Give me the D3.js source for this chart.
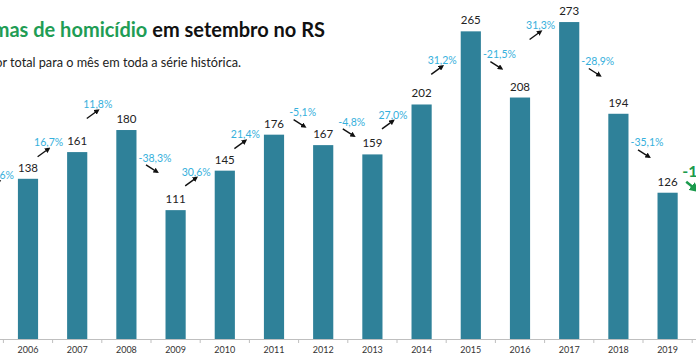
<!DOCTYPE html>
<html>
<head>
<meta charset="utf-8">
<script src="https://cdn.jsdelivr.net/npm/d3@7"></script>
<style>
  body { margin: 0; background: #fff; }
  svg { display: block; }
  #chart text { font-family: Lato, 'Open Sans', sans-serif; }
</style>
</head>
<body>
<svg id="chart" width="696" height="359"></svg>
<script>
// data
const years = [2006, 2007, 2008, 2009, 2010, 2011, 2012, 2013, 2014, 2015, 2016, 2017, 2018, 2019]
const victims = [138, 161, 180, 111, 145, 176, 167, 159, 202, 265, 208, 273, 194, 126]
// change vs previous year (first one is cut off in the picture)
const changes = ['12,6%', '16,7%', '11,8%', '-38,3%', '30,6%', '21,4%', '-5,1%', '-4,8%', '27,0%', '31,2%', '-21,5%', '31,3%', '-28,9%', '-35,1%']
// height (in victims) where each change annotation sits
const changeLevel = [141, 169, 202, 156, 144, 176, 195, 187, 193, 240, 245, 270, 239, 169]
// the next (2020) change, only partly visible on the right edge
const lastChange = '-15,1%'
const lastLevel = 144

const width = 696
const baseline = 339

const svg = d3.select('#chart')

const x = d3.scaleBand()
  .domain(years)
  .range([3.4, 692.2])
  .paddingInner(0.59)
  .paddingOuter(0.295)

const y = d3.scaleLinear()
  .domain([0, 292])
  .range([baseline, 0])

const step = x.step()
const bw = x.bandwidth()

// arrow heads
const defs = svg.append('defs')
const heads = [['head-black', '#111'], ['head-green', '#1a9a4c']]
heads.forEach(([id, c]) => {
  defs.append('marker')
    .attr('id', id)
    .attr('viewBox', '0 0 10 10')
    .attr('refX', 6)
    .attr('refY', 5)
    .attr('markerWidth', 4)
    .attr('markerHeight', 4)
    .attr('orient', 'auto')
    .append('path')
    .attr('d', 'M0,0 L10,5 L0,10 z')
    .attr('fill', c)
})

// title + subtitle (left part is cut off in the original)
const title = svg.append('text')
  .attr('x', 325)
  .attr('y', 37)
  .attr('text-anchor', 'end')
  .attr('font-size', 20)
  .attr('font-weight', 'bold')
title.append('tspan').attr('fill', '#1f9d55').text('Vítimas de homicídio')
title.append('tspan').attr('fill', '#111').text(' em setembro no RS')

svg.append('text')
  .attr('x', 241)
  .attr('y', 67)
  .attr('text-anchor', 'end')
  .attr('font-size', 12.7)
  .attr('fill', '#222')
  .text('Menor total para o mês em toda a série histórica.')

// bars
svg.append('g')
  .selectAll('rect')
  .data(years)
  .join('rect')
  .attr('x', (d) => x(d))
  .attr('y', (d, i) => y(victims[i]))
  .attr('width', bw)
  .attr('height', (d, i) => baseline - y(victims[i]))
  .attr('fill', '#2f8199')

// value labels
svg.append('g')
  .selectAll('text')
  .data(years)
  .join('text')
  .attr('x', (d) => x(d) + bw / 2)
  .attr('y', (d, i) => y(victims[i]) - 7)
  .attr('text-anchor', 'middle')
  .attr('font-size', 11.5)
  .attr('fill', '#222')
  .text((d, i) => victims[i])

// axis line + ticks between categories
const axis = svg.append('g')
axis.append('line')
  .attr('x1', 0)
  .attr('x2', width)
  .attr('y1', baseline + 0.5)
  .attr('y2', baseline + 0.5)
  .attr('stroke', '#bfbfbf')
axis.selectAll('.tick')
  .data(d3.range(years.length + 1))
  .join('line')
  .attr('class', 'tick')
  .attr('x1', (i) => x.range()[0] + i * step)
  .attr('x2', (i) => x.range()[0] + i * step)
  .attr('y1', baseline)
  .attr('y2', baseline + 4)
  .attr('stroke', '#bfbfbf')
axis.selectAll('.year')
  .data(years)
  .join('text')
  .attr('class', 'year')
  .attr('x', (d) => x(d) + bw / 2)
  .attr('y', baseline + 14)
  .attr('text-anchor', 'middle')
  .attr('font-size', 9)
  .attr('fill', '#333')
  .text((d) => d)

// change annotations with little arrows
const isDown = (i) => changes[i].startsWith('-')

const ann = svg.append('g')
  .selectAll('g')
  .data(years)
  .join('g')
  .attr('transform', (d, i) => {
    const cx = x(d) + bw / 2 - step / 2 + (isDown(i) ? 4 : -4)
    return `translate(${cx},${y(changeLevel[i])})`
  })

ann.append('text')
  .attr('text-anchor', 'middle')
  .attr('dy', '0.35em')
  .attr('font-size', 10.5)
  .attr('fill', '#36b0dc')
  .text((d, i) => changes[i])

ann.append('line')
  .attr('x1', (d, i) => (isDown(i) ? -9 : -11))
  .attr('y1', (d, i) => (isDown(i) ? 7 : 14))
  .attr('x2', (d, i) => (isDown(i) ? 2 : 0))
  .attr('y2', (d, i) => (isDown(i) ? 14 : 6))
  .attr('stroke', '#111')
  .attr('stroke-width', 1.4)
  .attr('marker-end', 'url(#head-black)')

// 2020 change, cut by the right edge
const last = svg.append('g')
  .attr('transform', `translate(${x.range()[1] - 10},${y(lastLevel)})`)
last.append('text')
  .attr('dy', '0.35em')
  .attr('font-size', 16)
  .attr('font-weight', 'bold')
  .attr('fill', '#1a9a4c')
  .text(lastChange)
last.append('line')
  .attr('x1', 4)
  .attr('y1', 10)
  .attr('x2', 14)
  .attr('y2', 18)
  .attr('stroke', '#1a9a4c')
  .attr('stroke-width', 2.5)
  .attr('marker-end', 'url(#head-green)')
</script>
</body>
</html>
